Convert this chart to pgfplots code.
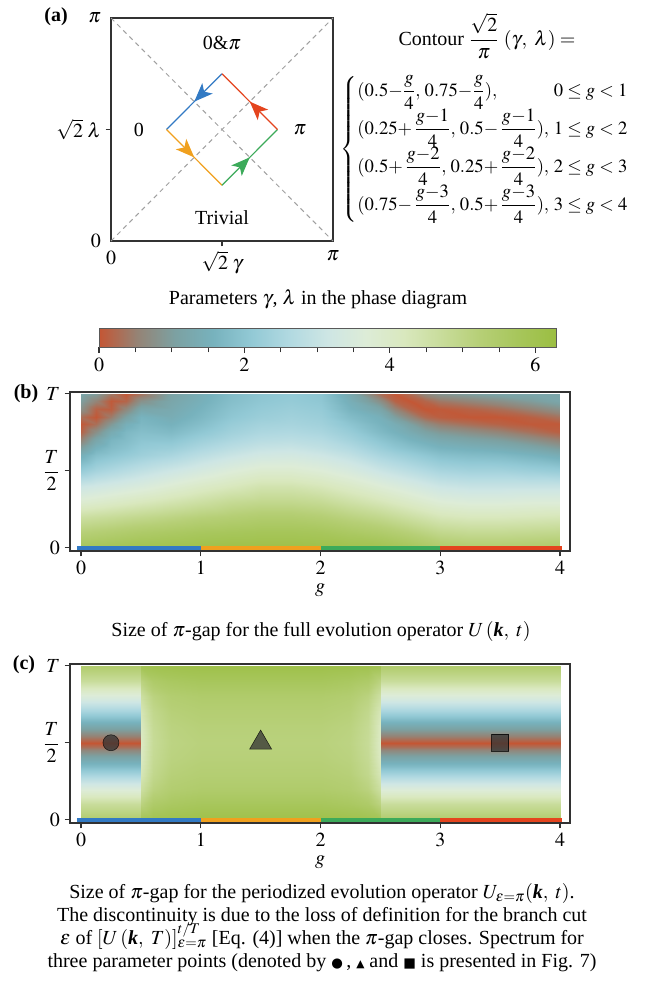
\documentclass[border=0pt]{standalone}
\usepackage{amsmath}
\usepackage{mathptmx}
\usepackage{fontspec}
\setmainfont{Liberation Serif}
\newfontfamily\dejavu{DejaVu Sans}
\usepackage{pgfplots}
\pgfplotsset{compat=1.18}
\usetikzlibrary{arrows.meta,decorations.markings}

\definecolor{cblue}{RGB}{50,122,196}
\definecolor{corange}{RGB}{240,160,30}
\definecolor{cgreen}{RGB}{60,170,90}
\definecolor{cred}{RGB}{228,68,30}
\definecolor{axgray}{RGB}{50,50,50}
\definecolor{dashgray}{RGB}{160,160,160}

\pgfplotsset{
  colormap={gap}{rgb255(0cm)=(196,86,52); rgb255(1cm)=(149,131,117); rgb255(2cm)=(124,161,162);
    rgb255(3cm)=(119,178,189); rgb255(4cm)=(146,201,213); rgb255(5cm)=(177,217,225);
    rgb255(6cm)=(206,230,228); rgb255(7cm)=(221,236,215); rgb255(8cm)=(217,232,190);
    rgb255(9cm)=(200,220,154); rgb255(10cm)=(182,207,118); rgb255(11cm)=(167,198,91);
    rgb255(12cm)=(155,190,66)},
  heat/.style={
    scale only axis, width=375pt, height=119.25pt,
    xmin=-0.092, xmax=4.0835, ymin=-0.02, ymax=1.01,
    axis on top,
    axis line style={axgray, line width=0.8pt},
    every tick/.style={axgray, line width=0.8pt},
    tick align=outside, xtick pos=left, ytick pos=left,
    major tick length=4pt,
    xtick={0,1,2,3,4}, ytick={0,0.5,1},
    yticklabels={$0$,$\dfrac{T}{2}$,$T$},
    xlabel={$g$},
    colormap name=gap, point meta min=0, point meta max=6.2832,
  },
  strip/.style={line width=3.6pt, forget plot},
  mk/.style={only marks, mark options={fill=black!80, draw=none, opacity=0.75}},
  arr/.style={line width=0.9pt, postaction={decorate}, decoration={markings, mark=at position 0.5 with {\arrow{Stealth[length=14pt,width=11pt,inset=3.5pt]}}}},
}

\begin{document}
\begin{tikzpicture}[font=\fontsize{15}{18}\selectfont]
\useasboundingbox (0,0) rectangle (483.75pt,-747pt);

% ---------------- panel (a)
\begin{axis}[at={(83.25pt,-180.75pt)}, anchor=south west,
  scale only axis, width=166.5pt, height=167.25pt,
  xmin=0, xmax=1, ymin=0, ymax=1,
  axis line style={axgray, line width=0.8pt},
  every tick/.style={axgray, line width=0.8pt},
  tick align=outside, xtick pos=left, ytick pos=left, major tick length=4pt,
  xtick={0.5}, xticklabels={$\sqrt{2}\;\gamma$},
  ytick={0.5}, yticklabels={$\sqrt{2}\;\lambda$},
  extra x ticks={0,1}, extra x tick labels={$0$,$\pi$}, extra x tick style={major tick style={draw=none}},
  extra y ticks={0,1}, extra y tick labels={$0$,$\pi$}, extra y tick style={major tick style={draw=none}},
  clip=false]
\addplot[dashgray, line width=0.75pt, dash pattern=on 3.5pt off 3pt] coordinates {(0,1) (1,0)};
\addplot[dashgray, line width=0.75pt, dash pattern=on 3.5pt off 3pt] coordinates {(0,0) (1,1)};
\addplot[cblue, arr] coordinates {(0.5,0.75) (0.25,0.5)};
\addplot[corange, arr] coordinates {(0.25,0.5) (0.5,0.25)};
\addplot[cgreen, arr] coordinates {(0.5,0.25) (0.75,0.5)};
\addplot[cred, arr] coordinates {(0.75,0.5) (0.5,0.75)};
\node at (axis cs:0.5,0.888) {0\&$\pi$};
\node at (axis cs:0.126,0.5) {0};
\node at (axis cs:0.851,0.5) {$\pi$};
\node at (axis cs:0.5,0.103) {Trivial};
\end{axis}

\node[font=\bfseries\fontsize{15}{18}\selectfont] at (42pt,-12.75pt) {(a)};
\node[anchor=base] at (365.25pt,-33.75pt) {Contour $\dfrac{\sqrt{2}}{\pi}$ $(\gamma,\ \lambda) =$};
\node[anchor=west, font=\fontsize{14}{16}\selectfont] at (252pt,-112pt) {$\left\{\begin{array}{@{}l@{\ }r@{}}
(0.5{-}\dfrac{g}{4},\, 0.75{-}\dfrac{g}{4}), & 0\le g<1\\[2pt]
(0.25{+}\,\dfrac{g{-}1}{4},\, 0.5{-}\,\dfrac{g{-}1}{4}), & 1\le g<2\\[2pt]
(0.5{+}\,\dfrac{g{-}2}{4},\, 0.25{+}\,\dfrac{g{-}2}{4}), & 2\le g<3\\[2pt]
(0.75{-}\,\dfrac{g{-}3}{4},\, 0.5{+}\,\dfrac{g{-}3}{4}), & 3\le g<4
\end{array}\right.$};

% ---------------- colorbar
\node[anchor=base] at (238.5pt,-228pt) {Parameters $\gamma$, $\lambda$ in the phase diagram};
\begin{axis}[at={(74.25pt,-260.25pt)}, anchor=south west,
  scale only axis, width=342.75pt, height=14.25pt,
  xmin=0, xmax=6.2832, ymin=0, ymax=1,
  axis on top,
  axis line style={black!65, line width=0.6pt},
  every tick/.style={axgray, line width=0.8pt},
  ytick=\empty, xtick={0,2,4,6}, minor x tick num=3,
  tick align=outside, xtick pos=left, major tick length=4.5pt, minor tick length=4pt,
  colormap name=gap, point meta min=0, point meta max=6.2832]
\addplot[surf, shader=interp, mesh/cols=13, point meta=x] table[row sep=\\] {
x y \\ 0 0 \\ 0.5236 0 \\ 1.0472 0 \\ 1.5708 0 \\ 2.0944 0 \\ 2.6180 0 \\ 3.1416 0 \\ 3.6652 0 \\ 4.1888 0 \\ 4.7124 0 \\ 5.2360 0 \\ 5.7596 0 \\ 6.2832 0 \\
0 1 \\ 0.5236 1 \\ 1.0472 1 \\ 1.5708 1 \\ 2.0944 1 \\ 2.6180 1 \\ 3.1416 1 \\ 3.6652 1 \\ 4.1888 1 \\ 4.7124 1 \\ 5.2360 1 \\ 5.7596 1 \\ 6.2832 1 \\
};
\end{axis}

% ---------------- panel (b)
\node[font=\bfseries\fontsize{15}{18}\selectfont] at (19.5pt,-295.5pt) {(b)};
\begin{axis}[heat, at={(52.5pt,-413.25pt)}, anchor=south west]
\addplot[surf, shader=interp, mesh/cols=21, point meta=explicit] table[row sep=\\, meta=v] {
g t v \\
0 0 5.8 \\ 0.125 0 5.85 \\ 0.25 0 5.9 \\ 0.375 0 5.95 \\ 0.5 0 6.0 \\ 0.75 0 6.05 \\ 1 0 6.1 \\ 1.25 0 6.15 \\ 1.5 0 6.15 \\ 1.75 0 6.15 \\ 2 0 6.1 \\ 2.25 0 6.05 \\ 2.5 0 6.0 \\ 2.625 0 5.9 \\ 2.75 0 5.8 \\ 2.875 0 5.65 \\ 3 0 5.5 \\ 3.25 0 5.4 \\ 3.5 0 5.4 \\ 3.75 0 5.45 \\ 4 0 5.5 \\
0 0.1 5.2 \\ 0.125 0.1 5.28 \\ 0.25 0.1 5.35 \\ 0.375 0.1 5.43 \\ 0.5 0.1 5.5 \\ 0.75 0.1 5.6 \\ 1 0.1 5.7 \\ 1.25 0.1 5.75 \\ 1.5 0.1 5.8 \\ 1.75 0.1 5.8 \\ 2 0.1 5.75 \\ 2.25 0.1 5.6 \\ 2.5 0.1 5.45 \\ 2.625 0.1 5.33 \\ 2.75 0.1 5.2 \\ 2.875 0.1 5.05 \\ 3 0.1 4.9 \\ 3.25 0.1 4.8 \\ 3.5 0.1 4.8 \\ 3.75 0.1 4.85 \\ 4 0.1 4.9 \\
0 0.2 4.6 \\ 0.125 0.2 4.68 \\ 0.25 0.2 4.75 \\ 0.375 0.2 4.83 \\ 0.5 0.2 4.9 \\ 0.75 0.2 5.05 \\ 1 0.2 5.2 \\ 1.25 0.2 5.3 \\ 1.5 0.2 5.4 \\ 1.75 0.2 5.4 \\ 2 0.2 5.3 \\ 2.25 0.2 5.1 \\ 2.5 0.2 4.9 \\ 2.625 0.2 4.75 \\ 2.75 0.2 4.6 \\ 2.875 0.2 4.45 \\ 3 0.2 4.3 \\ 3.25 0.2 4.2 \\ 3.5 0.2 4.2 \\ 3.75 0.2 4.25 \\ 4 0.2 4.3 \\
0 0.3 3.8 \\ 0.125 0.3 3.9 \\ 0.25 0.3 4.0 \\ 0.375 0.3 4.1 \\ 0.5 0.3 4.2 \\ 0.75 0.3 4.4 \\ 1 0.3 4.6 \\ 1.25 0.3 4.8 \\ 1.5 0.3 4.9 \\ 1.75 0.3 4.9 \\ 2 0.3 4.8 \\ 2.25 0.3 4.55 \\ 2.5 0.3 4.3 \\ 2.625 0.3 4.15 \\ 2.75 0.3 4.0 \\ 2.875 0.3 3.85 \\ 3 0.3 3.7 \\ 3.25 0.3 3.6 \\ 3.5 0.3 3.6 \\ 3.75 0.3 3.65 \\ 4 0.3 3.65 \\
0 0.4 3.1 \\ 0.125 0.4 3.2 \\ 0.25 0.4 3.3 \\ 0.375 0.4 3.4 \\ 0.5 0.4 3.5 \\ 0.75 0.4 3.75 \\ 1 0.4 4.0 \\ 1.25 0.4 4.2 \\ 1.5 0.4 4.4 \\ 1.75 0.4 4.4 \\ 2 0.4 4.25 \\ 2.25 0.4 4.0 \\ 2.5 0.4 3.7 \\ 2.625 0.4 3.55 \\ 2.75 0.4 3.4 \\ 2.875 0.4 3.25 \\ 3 0.4 3.1 \\ 3.25 0.4 3.0 \\ 3.5 0.4 3.0 \\ 3.75 0.4 3.0 \\ 4 0.4 3.0 \\
0 0.5 2.2 \\ 0.125 0.5 2.45 \\ 0.25 0.5 2.6 \\ 0.375 0.5 2.75 \\ 0.5 0.5 2.9 \\ 0.75 0.5 3.15 \\ 1 0.5 3.4 \\ 1.25 0.5 3.65 \\ 1.5 0.5 3.85 \\ 1.75 0.5 3.85 \\ 2 0.5 3.7 \\ 2.25 0.5 3.45 \\ 2.5 0.5 3.1 \\ 2.625 0.5 2.95 \\ 2.75 0.5 2.8 \\ 2.875 0.5 2.65 \\ 3 0.5 2.5 \\ 3.25 0.5 2.4 \\ 3.5 0.5 2.4 \\ 3.75 0.5 2.3 \\ 4 0.5 2.2 \\
0 0.6 1.45 \\ 0.125 0.6 1.85 \\ 0.25 0.6 2.0 \\ 0.375 0.6 2.15 \\ 0.5 0.6 2.3 \\ 0.75 0.6 2.5 \\ 1 0.6 2.8 \\ 1.25 0.6 3.05 \\ 1.5 0.6 3.25 \\ 1.75 0.6 3.3 \\ 2 0.6 3.15 \\ 2.25 0.6 2.9 \\ 2.5 0.6 2.5 \\ 2.625 0.6 2.35 \\ 2.75 0.6 2.2 \\ 2.875 0.6 2.05 \\ 3 0.6 1.9 \\ 3.25 0.6 1.8 \\ 3.5 0.6 1.75 \\ 3.75 0.6 1.6 \\ 4 0.6 1.4 \\
0 0.65 1.0 \\ 0.125 0.65 1.55 \\ 0.25 0.65 1.8 \\ 0.375 0.65 1.95 \\ 0.5 0.65 2.15 \\ 0.75 0.65 2.25 \\ 1 0.65 2.55 \\ 1.25 0.65 2.8 \\ 1.5 0.65 3.0 \\ 1.75 0.65 3.05 \\ 2 0.65 2.9 \\ 2.25 0.65 2.65 \\ 2.5 0.65 2.25 \\ 2.625 0.65 2.05 \\ 2.75 0.65 1.9 \\ 2.875 0.65 1.75 \\ 3 0.65 1.6 \\ 3.25 0.65 1.5 \\ 3.5 0.65 1.4 \\ 3.75 0.65 1.22 \\ 4 0.65 0.96 \\
0 0.7 0.55 \\ 0.125 0.7 1.2 \\ 0.25 0.7 1.65 \\ 0.375 0.7 1.8 \\ 0.5 0.7 2.0 \\ 0.75 0.7 2.0 \\ 1 0.7 2.3 \\ 1.25 0.7 2.55 \\ 1.5 0.7 2.75 \\ 1.75 0.7 2.8 \\ 2 0.7 2.7 \\ 2.25 0.7 2.4 \\ 2.5 0.7 2.0 \\ 2.625 0.7 1.8 \\ 2.75 0.7 1.6 \\ 2.875 0.7 1.45 \\ 3 0.7 1.3 \\ 3.25 0.7 1.15 \\ 3.5 0.7 1.02 \\ 3.75 0.7 0.78 \\ 4 0.7 0.52 \\
0 0.75 0.15 \\ 0.125 0.75 0.75 \\ 0.25 0.75 1.35 \\ 0.375 0.75 1.7 \\ 0.5 0.75 1.85 \\ 0.75 0.75 1.75 \\ 1 0.75 2.05 \\ 1.25 0.75 2.35 \\ 1.5 0.75 2.55 \\ 1.75 0.75 2.6 \\ 2 0.75 2.5 \\ 2.25 0.75 2.2 \\ 2.5 0.75 1.75 \\ 2.625 0.75 1.55 \\ 2.75 0.75 1.35 \\ 2.875 0.75 1.1 \\ 3 0.75 0.92 \\ 3.25 0.75 0.74 \\ 3.5 0.75 0.56 \\ 3.75 0.75 0.33 \\ 4 0.75 0.12 \\
0 0.8 0.02 \\ 0.125 0.8 0.3 \\ 0.25 0.8 0.9 \\ 0.375 0.8 1.47 \\ 0.5 0.8 1.7 \\ 0.75 0.8 1.55 \\ 1 0.8 1.85 \\ 1.25 0.8 2.2 \\ 1.5 0.8 2.4 \\ 1.75 0.8 2.45 \\ 2 0.8 2.35 \\ 2.25 0.8 2.0 \\ 2.5 0.8 1.6 \\ 2.625 0.8 1.4 \\ 2.75 0.8 1.06 \\ 2.875 0.8 0.7 \\ 3 0.8 0.47 \\ 3.25 0.8 0.29 \\ 3.5 0.8 0.15 \\ 3.75 0.8 0.05 \\ 4 0.8 0.05 \\
0 0.85 0.3 \\ 0.125 0.85 0.02 \\ 0.25 0.85 0.45 \\ 0.375 0.85 1.07 \\ 0.5 0.85 1.6 \\ 0.75 0.85 1.4 \\ 1 0.85 1.7 \\ 1.25 0.85 2.05 \\ 1.5 0.85 2.25 \\ 1.75 0.85 2.35 \\ 2 0.85 2.25 \\ 2.25 0.85 1.8 \\ 2.5 0.85 1.5 \\ 2.625 0.85 1.02 \\ 2.75 0.85 0.61 \\ 2.875 0.85 0.24 \\ 3 0.85 0.1 \\ 3.25 0.85 0.02 \\ 3.5 0.85 0.02 \\ 3.75 0.85 0.12 \\ 4 0.85 0.33 \\
0 0.9 0.75 \\ 0.125 0.9 0.15 \\ 0.25 0.9 0.1 \\ 0.375 0.9 0.62 \\ 0.5 0.9 1.22 \\ 0.75 0.9 1.3 \\ 1 0.9 1.6 \\ 1.25 0.9 1.95 \\ 1.5 0.9 2.15 \\ 1.75 0.9 2.25 \\ 2 0.9 2.15 \\ 2.25 0.9 1.6 \\ 2.5 0.9 1.18 \\ 2.625 0.9 0.56 \\ 2.75 0.9 0.18 \\ 2.875 0.9 0.01 \\ 3 0.9 0.05 \\ 3.25 0.9 0.15 \\ 3.5 0.9 0.29 \\ 3.75 0.9 0.52 \\ 4 0.9 0.78 \\
0 0.95 1.0 \\ 0.125 0.95 0.55 \\ 0.25 0.95 0.05 \\ 0.375 0.95 0.18 \\ 0.5 0.95 0.78 \\ 0.75 0.95 1.2 \\ 1 0.95 1.5 \\ 1.25 0.95 1.85 \\ 1.5 0.95 2.05 \\ 1.75 0.95 2.15 \\ 2 0.95 2.05 \\ 2.25 0.95 1.45 \\ 2.5 0.95 0.74 \\ 2.625 0.95 0.15 \\ 2.75 0.95 0.01 \\ 2.875 0.95 0.18 \\ 3 0.95 0.4 \\ 3.25 0.95 0.56 \\ 3.5 0.95 0.74 \\ 3.75 0.95 0.96 \\ 4 0.95 1.2 \\
0 1 1.15 \\ 0.125 1 0.95 \\ 0.25 1 0.4 \\ 0.375 1 0.02 \\ 0.5 1 0.34 \\ 0.75 1 1.1 \\ 1 1 1.45 \\ 1.25 1 1.8 \\ 1.5 1 2.0 \\ 1.75 1 2.1 \\ 2 1 2.0 \\ 2.25 1 1.3 \\ 2.5 1 0.29 \\ 2.625 1 0.02 \\ 2.75 1 0.24 \\ 2.875 1 0.61 \\ 3 1 0.83 \\ 3.25 1 1.0 \\ 3.5 1 1.15 \\ 3.75 1 1.2 \\ 4 1 1.2 \\
};
\addplot[strip, cblue] coordinates {(-0.035,-0.003) (1,-0.003)};
\addplot[strip, corange] coordinates {(1,-0.003) (2,-0.003)};
\addplot[strip, cgreen] coordinates {(2,-0.003) (3,-0.003)};
\addplot[strip, cred] coordinates {(3,-0.003) (4.02,-0.003)};
\end{axis}
\node[anchor=base] at (240.75pt,-477pt) {Size of $\pi$-gap for the full evolution operator $U\,(\textbf{\textit{k}},\ t)$};

% ---------------- panel (c)
\node[font=\bfseries\fontsize{15}{18}\selectfont] at (18pt,-498.75pt) {(c)};
\begin{axis}[heat, at={(52.5pt,-617.25pt)}, anchor=south west]
\addplot[surf, shader=interp, mesh/cols=2, point meta=explicit] table[row sep=\\, meta=v] {
g t v \\
0 0 5.4 \\ 0.5 0 5.4 \\ 0 0.1 4.7 \\ 0.5 0.1 4.7 \\ 0 0.2 3.6 \\ 0.5 0.2 3.6 \\ 0 0.3 2.4 \\ 0.5 0.3 2.4 \\
0 0.35 1.75 \\ 0.5 0.35 1.75 \\ 0 0.4 1.2 \\ 0.5 0.4 1.2 \\ 0 0.45 0.6 \\ 0.5 0.45 0.6 \\ 0 0.475 0.3 \\ 0.5 0.475 0.3 \\
0 0.5 0.0 \\ 0.5 0.5 0.0 \\ 0 0.525 0.3 \\ 0.5 0.525 0.3 \\ 0 0.55 0.6 \\ 0.5 0.55 0.6 \\ 0 0.6 1.2 \\ 0.5 0.6 1.2 \\
0 0.65 1.75 \\ 0.5 0.65 1.75 \\ 0 0.7 2.4 \\ 0.5 0.7 2.4 \\ 0 0.8 3.6 \\ 0.5 0.8 3.6 \\ 0 0.9 4.7 \\ 0.5 0.9 4.7 \\ 0 1 5.4 \\ 0.5 1 5.4 \\
};
\addplot[surf, shader=interp, mesh/cols=2, point meta=explicit] table[row sep=\\, meta=v] {
g t v \\
2.5 0 5.4 \\ 4 0 5.4 \\ 2.5 0.1 4.7 \\ 4 0.1 4.7 \\ 2.5 0.2 3.6 \\ 4 0.2 3.6 \\ 2.5 0.3 2.4 \\ 4 0.3 2.4 \\
2.5 0.35 1.75 \\ 4 0.35 1.75 \\ 2.5 0.4 1.2 \\ 4 0.4 1.2 \\ 2.5 0.45 0.6 \\ 4 0.45 0.6 \\ 2.5 0.475 0.3 \\ 4 0.475 0.3 \\
2.5 0.5 0.0 \\ 4 0.5 0.0 \\ 2.5 0.525 0.3 \\ 4 0.525 0.3 \\ 2.5 0.55 0.6 \\ 4 0.55 0.6 \\ 2.5 0.6 1.2 \\ 4 0.6 1.2 \\
2.5 0.65 1.75 \\ 4 0.65 1.75 \\ 2.5 0.7 2.4 \\ 4 0.7 2.4 \\ 2.5 0.8 3.6 \\ 4 0.8 3.6 \\ 2.5 0.9 4.7 \\ 4 0.9 4.7 \\ 2.5 1 5.4 \\ 4 1 5.4 \\
};
\addplot[surf, shader=interp, mesh/cols=9, point meta=explicit] table[row sep=\\, meta=v] {
g t v \\
0.5 0 5.9 \\ 0.6 0 6.0 \\ 0.75 0 6.05 \\ 1 0 6.1 \\ 1.5 0 6.1 \\ 2 0 6.1 \\ 2.25 0 6.05 \\ 2.4 0 6.0 \\ 2.5 0 5.9 \\
0.5 0.1 5.1 \\ 0.6 0.1 5.5 \\ 0.75 0.1 5.65 \\ 1 0.1 5.75 \\ 1.5 0.1 5.75 \\ 2 0.1 5.75 \\ 2.25 0.1 5.65 \\ 2.4 0.1 5.5 \\ 2.5 0.1 5.1 \\
0.5 0.2 4.6 \\ 0.6 0.2 5.1 \\ 0.75 0.2 5.35 \\ 1 0.2 5.45 \\ 1.5 0.2 5.45 \\ 2 0.2 5.45 \\ 2.25 0.2 5.35 \\ 2.4 0.2 5.1 \\ 2.5 0.2 4.6 \\
0.5 0.3 4.3 \\ 0.6 0.3 4.9 \\ 0.75 0.3 5.2 \\ 1 0.3 5.3 \\ 1.5 0.3 5.3 \\ 2 0.3 5.3 \\ 2.25 0.3 5.2 \\ 2.4 0.3 4.9 \\ 2.5 0.3 4.3 \\
0.5 0.4 4.15 \\ 0.6 0.4 4.8 \\ 0.75 0.4 5.1 \\ 1 0.4 5.2 \\ 1.5 0.4 5.2 \\ 2 0.4 5.2 \\ 2.25 0.4 5.1 \\ 2.4 0.4 4.8 \\ 2.5 0.4 4.15 \\
0.5 0.5 4.1 \\ 0.6 0.5 4.75 \\ 0.75 0.5 5.05 \\ 1 0.5 5.15 \\ 1.5 0.5 5.15 \\ 2 0.5 5.15 \\ 2.25 0.5 5.05 \\ 2.4 0.5 4.75 \\ 2.5 0.5 4.1 \\
0.5 0.6 4.15 \\ 0.6 0.6 4.8 \\ 0.75 0.6 5.1 \\ 1 0.6 5.2 \\ 1.5 0.6 5.2 \\ 2 0.6 5.2 \\ 2.25 0.6 5.1 \\ 2.4 0.6 4.8 \\ 2.5 0.6 4.15 \\
0.5 0.7 4.3 \\ 0.6 0.7 4.9 \\ 0.75 0.7 5.2 \\ 1 0.7 5.3 \\ 1.5 0.7 5.3 \\ 2 0.7 5.3 \\ 2.25 0.7 5.2 \\ 2.4 0.7 4.9 \\ 2.5 0.7 4.3 \\
0.5 0.8 4.6 \\ 0.6 0.8 5.1 \\ 0.75 0.8 5.35 \\ 1 0.8 5.45 \\ 1.5 0.8 5.45 \\ 2 0.8 5.45 \\ 2.25 0.8 5.35 \\ 2.4 0.8 5.1 \\ 2.5 0.8 4.6 \\
0.5 0.9 5.1 \\ 0.6 0.9 5.5 \\ 0.75 0.9 5.65 \\ 1 0.9 5.75 \\ 1.5 0.9 5.75 \\ 2 0.9 5.75 \\ 2.25 0.9 5.65 \\ 2.4 0.9 5.5 \\ 2.5 0.9 5.1 \\
0.5 1 5.9 \\ 0.6 1 6.0 \\ 0.75 1 6.05 \\ 1 1 6.1 \\ 1.5 1 6.1 \\ 2 1 6.1 \\ 2.25 1 6.05 \\ 2.4 1 6.0 \\ 2.5 1 5.9 \\
};
\addplot[strip, cblue] coordinates {(-0.035,-0.003) (1,-0.003)};
\addplot[strip, corange] coordinates {(1,-0.003) (2,-0.003)};
\addplot[strip, cgreen] coordinates {(2,-0.003) (3,-0.003)};
\addplot[strip, cred] coordinates {(3,-0.003) (4.02,-0.003)};
\addplot[mk, mark=*, mark size=6pt] coordinates {(0.25,0.5)};
\addplot[mk, mark=triangle*, mark size=9.5pt] coordinates {(1.5,0.5)};
\addplot[mk, mark=square*, mark size=6.4pt] coordinates {(3.5,0.5)};
\end{axis}

\node[anchor=base] at (241.5pt,-673.5pt) {Size of $\pi$-gap for the periodized evolution operator $U_{\varepsilon=\pi}(\textbf{\textit{k}},\ t)$.};
\node[anchor=base] at (241.5pt,-690.75pt) {The discontinuity is due to the loss of definition for the branch cut};
\node[anchor=base] at (241.5pt,-708pt) {$\varepsilon$ of $[U\,(\textbf{\textit{k}},\ T)]^{t/T}_{\varepsilon=\pi}$ [Eq. (4)] when the $\pi$-gap closes. Spectrum for};
\node[anchor=base] at (241.5pt,-725.25pt) {three parameter points (denoted by {\dejavu\fontsize{10}{10}\selectfont ●}\,, {\dejavu\fontsize{8}{8}\selectfont ▲} and {\dejavu\fontsize{10}{10}\selectfont ■} is presented in Fig. 7)};
\end{tikzpicture}
\end{document}
